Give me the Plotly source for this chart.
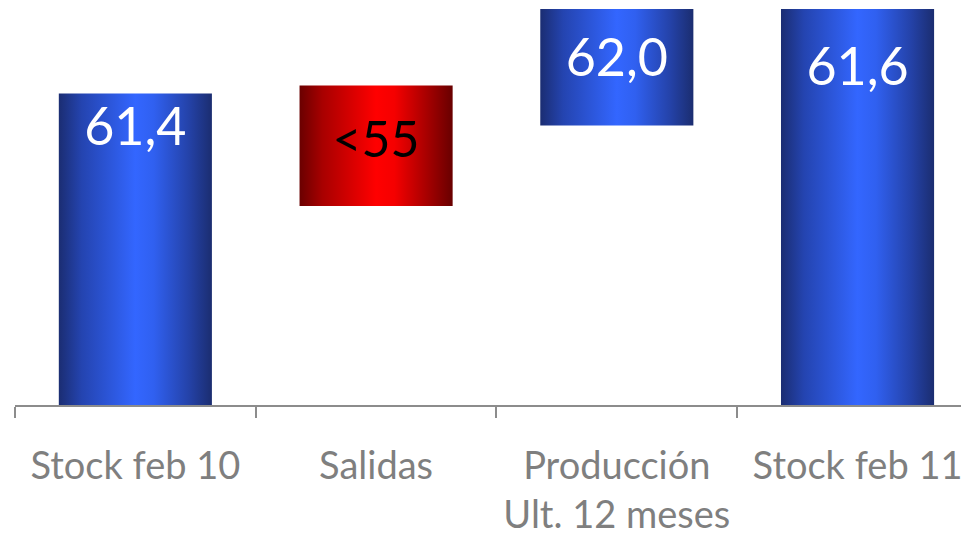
import plotly.graph_objects as go

# ---- data (schematic waterfall, value units) ----
categories = ["Stock feb 10", "Salidas", "Producción<br>Ult. 12 meses", "Stock feb 11"]
bar_base = [0, 200, 281, 0]
bar_top = [313, 321, 398, 398]
bar_labels = ["61,4", "<55", "62,0", "61,6"]

# ---- styles ----
blue_scale = [[0, "#1b2d72"], [0.15, "#2444b0"], [0.5, "#3366ff"], [0.62, "#3060f0"], [0.85, "#2442a8"], [1, "#1b2d70"]]
red_scale = [[0, "#6a0000"], [0.15, "#a80000"], [0.5, "#ff0000"], [0.62, "#f50000"], [0.85, "#a00000"], [1, "#680000"]]
bar_scales = [blue_scale, red_scale, blue_scale, blue_scale]
label_colors = ["white", "black", "white", "white"]
label_sizes = [52, 50, 52, 52]
label_offset = [39, 1, 4, 63]  # px below bar top ("top") or above centre ("mid")
label_mode = ["top", "mid", "mid", "top"]
bar_width = 0.636
FONT = "Lato"

fig = go.Figure()
for i, (b, t) in enumerate(zip(bar_base, bar_top)):
    x0, x1 = i - bar_width / 2, i + bar_width / 2
    fig.add_trace(go.Scatter(
        x=[x0, x1, x1, x0, x0], y=[b, b, t, t, b],
        mode="lines", line=dict(width=0), fill="toself",
        fillgradient=dict(type="horizontal", colorscale=bar_scales[i]),
        hoverinfo="skip", showlegend=False,
    ))
    if label_mode[i] == "top":
        ly = t - label_offset[i]
    else:
        ly = (b + t) / 2 + label_offset[i]
    fig.add_trace(go.Scatter(
        x=[i], y=[ly], mode="text", text=[bar_labels[i]],
        textfont=dict(family=FONT, size=label_sizes[i], color=label_colors[i]),
        textposition="middle center", hoverinfo="skip", showlegend=False,
    ))

fig.update_layout(
    width=961, height=528,
    margin=dict(l=7, r=0, t=1, b=129),
    paper_bgcolor="white", plot_bgcolor="white",
    showlegend=False,
    xaxis=dict(
        range=[-0.5, 3.463], tickvals=list(range(len(categories))), ticktext=categories,
        ticks="", showgrid=False, zeroline=False,
        showline=True, linecolor="#8c8c8c", linewidth=2,
        tickfont=dict(family=FONT, size=38, color="#7f7f7f"),
        ticklabelstandoff=26,
        minor=dict(tickvals=[i - 0.5 for i in range(len(categories))], ticks="outside",
                   ticklen=11, tickwidth=2, tickcolor="#8c8c8c", showgrid=False),
        fixedrange=True,
    ),
    yaxis=dict(range=[0, 398], visible=False, fixedrange=True),
)

fig.write_html("out.html")
